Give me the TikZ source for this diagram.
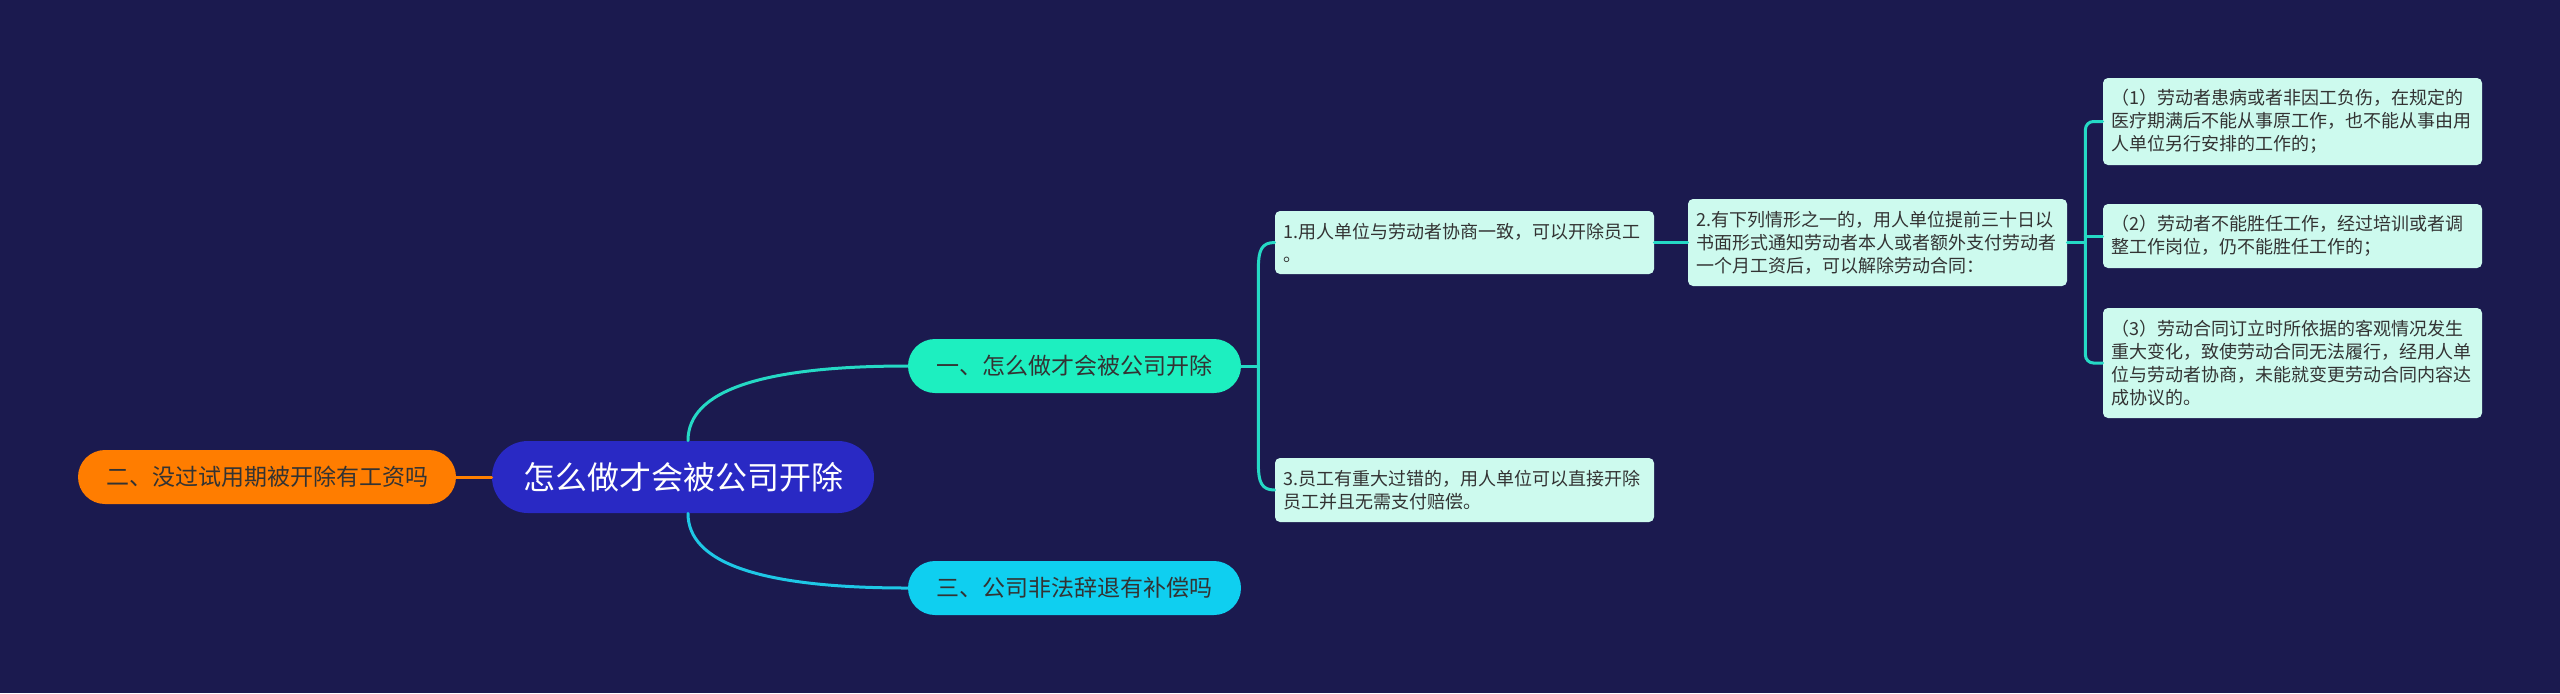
\documentclass[tikz,border=0pt]{standalone}
\usepackage{fontspec}
\setmainfont{Noto Sans CJK SC}
\usetikzlibrary{calc}
\definecolor{bg}{HTML}{1B1A4F}
\definecolor{ctrfill}{HTML}{2929C4}
\definecolor{mint}{HTML}{1DEFC0}
\definecolor{cyanb}{HTML}{0FCFF0}
\definecolor{orangeb}{HTML}{FF7D00}
\definecolor{leaf}{HTML}{CDFAEE}
\definecolor{txt}{HTML}{333333}
\definecolor{tealline}{HTML}{25D9C5}
\definecolor{cyanline}{HTML}{1EC8E6}
\definecolor{orangeline}{HTML}{FF8000}
\tikzset{
  leafbox/.style={fill=leaf, rounded corners=2.5pt, text width=181.5pt,
    inner xsep=4pt, inner ysep=0pt, align=left, text=txt,
    font=\fontsize{9pt}{11.5pt}\selectfont},
  branchbox/.style={rounded corners=13.5pt, minimum height=27pt, inner sep=0pt,
    text=txt, font=\fontsize{11.5pt}{13pt}\selectfont},
  ctrbox/.style={fill=ctrfill, rounded corners=18pt, minimum width=191pt,
    minimum height=36pt, inner sep=0pt, text=white,
    font=\fontsize{16pt}{19pt}\selectfont},
  conn/.style={line width=1.5pt, line cap=round},
}
\begin{document}
\begin{tikzpicture}[x=0.5pt,y=-0.5pt]
\fill[bg] (0,0) rectangle (2560,693);
\useasboundingbox (0,0) rectangle (2560,693);

% nodes
\node[ctrbox] (ctr) at (683,477) {怎么做才会被公司开除};
\node[branchbox, fill=orangeb, minimum width=189pt] (b2) at (267,477) {二、没过试用期被开除有工资吗};
\node[branchbox, fill=mint, minimum width=166.5pt] (b1) at (1074.5,366) {一、怎么做才会被公司开除};
\node[branchbox, fill=cyanb, minimum width=166.5pt] (b3) at (1074.5,588) {三、公司非法辞退有补偿吗};

\node[leafbox, minimum height=31.5pt] (n1) at (1464.5,242.5) {1.用人单位与劳动者协商一致，可以开除员工\\。};
\node[leafbox, minimum height=32pt] (n3) at (1464.5,490) {3.员工有重大过错的，用人单位可以直接开除\\员工并且无需支付赔偿。};
\node[leafbox, minimum height=43.5pt] (n2) at (1877.5,242.5) {2.有下列情形之一的，用人单位提前三十日以\\书面形式通知劳动者本人或者额外支付劳动者\\一个月工资后，可以解除劳动合同：};
\node[leafbox, minimum height=43.5pt] (c1) at (2292.5,121.5) {（1）劳动者患病或者非因工负伤，在规定的\\医疗期满后不能从事原工作，也不能从事由用\\人单位另行安排的工作的；};
\node[leafbox, minimum height=32pt] (c2) at (2292.5,236) {（2）劳动者不能胜任工作，经过培训或者调\\整工作岗位，仍不能胜任工作的；};
\node[leafbox, minimum height=55pt] (c3) at (2292.5,363) {（3）劳动合同订立时所依据的客观情况发生\\重大变化，致使劳动合同无法履行，经用人单\\位与劳动者协商，未能就变更劳动合同内容达\\成协议的。};

% connectors from centre
\draw[conn, orangeline] (b2.east) -- (ctr.west);
\coordinate (s1) at ([xshift=2.5pt]ctr.north);
\coordinate (s3) at ([xshift=2.5pt]ctr.south);
\coordinate (k1) at (s1 |- b1.west);
\coordinate (k3) at (s3 |- b3.west);
\draw[conn, tealline] (s1) .. controls ($(s1)!0.667!(k1)$) and ($(b1.west)!0.667!(k1)$) .. (b1.west);
\draw[conn, cyanline] (s3) .. controls ($(s3)!0.667!(k3)$) and ($(b3.west)!0.667!(k3)$) .. (b3.west);

% branch one to its children
\coordinate (j1) at ([xshift=8.5pt]b1.east);
\draw[conn, tealline] (b1.east) -- (j1);
\draw[conn, tealline] (n1.west) .. controls ($(n1.west)+(-13,0)$) and ($(j1 |- n1.west)+(0,8)$) ..
  ($(j1 |- n1.west)+(0,25)$) -- ($(j1 |- n3.west)+(0,-25)$)
  .. controls ($(j1 |- n3.west)+(0,-8)$) and ($(n3.west)+(-13,0)$) .. (n3.west);
\draw[conn, tealline] (n1.east) -- (n2.west);

% node 2 to its children
\coordinate (j2) at ([xshift=9pt]n2.east);
\draw[conn, tealline] (n2.east) -- (j2);
\draw[conn, tealline, rounded corners=4pt] (c1.west) -- (j2 |- c1.west) -- (j2 |- c3.west) -- (c3.west);
\draw[conn, tealline] (j2 |- c2.west) -- (c2.west);
\end{tikzpicture}
\end{document}
